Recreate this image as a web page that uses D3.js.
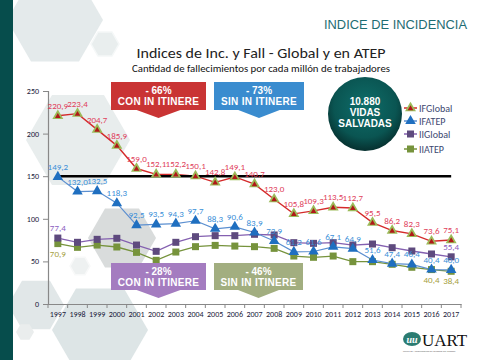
<!DOCTYPE html>
<html><head><meta charset="utf-8">
<script src="https://cdn.jsdelivr.net/npm/d3@7"></script>
<style>
html,body{margin:0;padding:0;background:#fff;}
svg{display:block;}
</style></head>
<body>
<svg id="c" width="480" height="360"></svg>
<script>
const years = ["1997","1998","1999","2000","2001","2002","2003","2004","2005","2006","2007","2008","2009","2010","2011","2012","2013","2014","2015","2016","2017"];
const ifGlobal = [220.9,223.4,204.7,185.9,159.0,152.1,152.2,150.1,142.8,149.1,140.7,123.0,105.8,109.3,113.5,112.7,95.5,86.2,82.3,73.6,75.1];
const ifAtep   = [149.2,132.0,132.5,118.3,92.5,93.5,94.3,97.7,88.3,90.6,83.9,73.9,61.2,61.6,67.1,64.9,51.6,47.4,46.4,40.4,40.0];
const iiGlobal = [77.4,72.4,75.9,77.1,69.2,61.8,72.4,79.0,80.2,80.2,81.8,81.0,72.0,71.2,72.0,69.2,70.4,66.1,62.2,58.7,55.4];
const iiAtep   = [70.9,66.5,69.2,66.9,60.6,51.3,61.0,67.3,68.8,68.0,67.3,65.3,56.3,54.8,56.3,49.7,49.7,46.6,43.1,40.4,38.4];
const yTicks = [0,50,100,150,200,250];
const refValue = 150;
const seriesNames = ["IFGlobal","IFATEP","IIGlobal","IIATEP"];
const ifGlobalLabelIdx = years.map((d,i)=>i);
const ifAtepLabelIdx = years.map((d,i)=>i);
const iiGlobalLabelIdx = [0,20];
const iiAtepLabelIdx = [0,19,20];
const callouts = [
  {l1:"- 66%", l2:"CON IN ITINERE", color:"#c93434"},
  {l1:"- 73%", l2:"SIN IN ITINERE", color:"#3a8ccf"},
  {l1:"- 28%", l2:"CON IN ITINERE", color:"#a47cc0"},
  {l1:"- 46%", l2:"SIN IN ITINERE", color:"#a2ae80"}
];
const calloutPos = [[111,82,206,110],[214,82,304,110],[111,263,206,290],[214,263,303,290]];

const NARROW = "Carlito, 'Liberation Sans Narrow', 'Liberation Sans', Arial, sans-serif";
const svg = d3.select("#c");

// decorative background
const bg = svg.append("g");
function hex(cx,cy,r,fill,stroke){
  const pts = d3.range(6).map(k=>{const a=Math.PI/3*k; return [cx+r*Math.cos(a), cy+r*Math.sin(a)];});
  bg.append("polygon").attr("points",pts.map(p=>p.join(",")).join(" "))
    .attr("fill",fill).attr("stroke",stroke||"none").attr("stroke-width",1.5);
}
hex(55,20,48,"#e4eaeb");
hex(78,140,52,"#e8eded");
hex(105,44,14,"#e9eeee","#f5f8f8");
hex(122,238,34,"#d9dcdc");
hex(80,266,10,"#eef1f1","#f8f9f9");
hex(36,305,28,"#e1e7e8");
hex(100,330,48,"#dde5e6");
hex(25,332,9,"#eaeded");
bg.append("rect").attr("x",0).attr("y",0).attr("width",13).attr("height",360).attr("fill","#064d4c");

// headings
svg.append("text").attr("x",467).attr("y",29).attr("text-anchor","end")
  .attr("font-family","'Liberation Sans', Arial, sans-serif").attr("font-size",13.5)
  .attr("fill","#1e6d73").attr("textLength",143).attr("lengthAdjust","spacingAndGlyphs")
  .text("INDICE  DE INCIDENCIA");
svg.append("text").attr("x",261).attr("y",58).attr("text-anchor","middle")
  .attr("font-family",NARROW).attr("font-size",15).attr("fill","#222")
  .attr("textLength",249).attr("lengthAdjust","spacingAndGlyphs")
  .text("Indices de Inc. y Fall - Global y en ATEP");
svg.append("text").attr("x",261).attr("y",72).attr("text-anchor","middle")
  .attr("font-family",NARROW).attr("font-size",10).attr("fill","#111")
  .attr("textLength",258).attr("lengthAdjust","spacingAndGlyphs")
  .text("Cantidad de fallecimientos por cada millón de trabajadores");

// scales
const x = d3.scaleBand().domain(years).range([48,461]);
const cx = d => x(d) + x.bandwidth()/2;
const y = d3.scaleLinear().domain([0,250]).range([304,91]);

// axes
const gx = svg.append("g").attr("transform","translate(0,304)")
  .call(d3.axisBottom(x).tickSize(0).tickPadding(7));
gx.select(".domain").attr("stroke","#888").attr("stroke-width",1.2);
gx.selectAll("text").attr("font-family",NARROW).attr("font-size",8).attr("fill","#1a1a3a");
gx.selectAll(".bt").data(years.concat(["end"])).enter().append("line")
  .attr("x1",(d,i)=>48+i*x.step()).attr("x2",(d,i)=>48+i*x.step())
  .attr("y1",0).attr("y2",4).attr("stroke","#888");
const gy = svg.append("g").attr("transform","translate(48,0)")
  .call(d3.axisLeft(y).tickValues(yTicks).tickSize(5).tickPadding(4));
gy.select(".domain").attr("stroke","#888").attr("stroke-width",1.2);
gy.selectAll(".tick line").attr("stroke","#888");
gy.selectAll("text").attr("font-family",NARROW).attr("font-size",8).attr("fill","#1a1a3a");

// series
const series = [
  {name:"IFGlobal", vals:ifGlobal, line:"#d42a2a", lw:1.4, lab:"#e0405a", marker:"tri2", labIdx:ifGlobalLabelIdx, below:false},
  {name:"IFATEP", vals:ifAtep, line:"#5b8fd0", lw:1.2, lab:"#3a8fd8", marker:"tri", mc:"#1f6fc0", labIdx:ifAtepLabelIdx, below:false},
  {name:"IIGlobal", vals:iiGlobal, line:"#8460b0", lw:1.3, lab:"#8a5cc0", marker:"sq", mc:"#5e4a7e", labIdx:iiGlobalLabelIdx, below:false},
  {name:"IIATEP", vals:iiAtep, line:"#76933c", lw:1.3, lab:"#a5a040", marker:"sq", mc:"#76933c", labIdx:iiAtepLabelIdx, below:true}
];
const line = d3.line().x((d,i)=>cx(years[i])).y(d=>y(d));
const order = [3,2,1,0];
order.forEach(k=>{
  const s = series[k];
  svg.append("path").datum(s.vals).attr("d",line).attr("fill","none")
    .attr("stroke",s.line).attr("stroke-width",s.lw);
});
svg.append("line").attr("x1",cx(years[0])).attr("x2",cx(years[years.length-1]))
  .attr("y1",y(refValue)).attr("y2",y(refValue)).attr("stroke","#000").attr("stroke-width",2.5);

const tri = d3.symbol().type(d3.symbolTriangle);
function drawMarker(g, s, px, py){
  if(s.marker==="sq"){
    g.append("rect").attr("x",px-3.5).attr("y",py-3.5).attr("width",7).attr("height",7).attr("fill",s.mc);
  } else if(s.marker==="tri"){
    g.append("path").attr("d",tri.size(48)()).attr("transform",`translate(${px},${py})`).attr("fill",s.mc);
  } else {
    g.append("path").attr("d",tri.size(52)()).attr("transform",`translate(${px},${py})`).attr("fill","#9bbb59");
    g.append("path").attr("d",tri.size(14)()).attr("transform",`translate(${px},${py+0.5})`).attr("fill","#b01818");
  }
}
order.forEach(k=>{
  const s = series[k];
  const g = svg.append("g");
  s.vals.forEach((v,i)=>drawMarker(g,s,cx(years[i]),y(v)));
});
const fmt = v => v.toFixed(1).replace(".",",");
series.forEach(s=>{
  const g = svg.append("g");
  s.labIdx.forEach(i=>{
    const v = s.vals[i];
    g.append("text").attr("x",cx(years[i])).attr("y", s.below ? y(v)+13 : y(v)-7)
      .attr("text-anchor","middle").attr("font-family",NARROW).attr("font-size",9)
      .attr("fill",s.lab).text(fmt(v));
  });
});

// callouts
callouts.forEach((c,i)=>{
  const [x0,y0,x1,y1] = calloutPos[i];
  const w = x1-x0, mx=(x0+x1)/2;
  const pts = [[x0,y0],[x1,y0],[x1,y1],[x1-w*0.27,y1],[mx,y1+8],[x0+w*0.27,y1],[x0,y1]];
  svg.append("polygon").attr("points",pts.map(p=>p.join(",")).join(" ")).attr("fill",c.color);
  svg.append("text").attr("x",mx).attr("y",y0+12).attr("text-anchor","middle")
    .attr("font-family","'Liberation Sans', Arial, sans-serif").attr("font-weight","bold")
    .attr("font-size",10).attr("fill","#fff").text(c.l1);
  svg.append("text").attr("x",mx).attr("y",y0+23).attr("text-anchor","middle")
    .attr("font-family","'Liberation Sans', Arial, sans-serif").attr("font-weight","bold")
    .attr("font-size",10).attr("fill","#fff").attr("letter-spacing",0.3).text(c.l2);
});

// circle
const defs = svg.append("defs");
const rg = defs.append("radialGradient").attr("id","cg").attr("cx","50%").attr("cy","40%").attr("r","60%");
rg.append("stop").attr("offset","0%").attr("stop-color","#0f6e6a");
rg.append("stop").attr("offset","70%").attr("stop-color","#0a5552");
rg.append("stop").attr("offset","100%").attr("stop-color","#06302f");
svg.append("circle").attr("cx",365).attr("cy",114).attr("r",37).attr("fill","url(#cg)");
[["10.880",105],["VIDAS",116],["SALVADAS",127]].forEach(([t,yy])=>{
  svg.append("text").attr("x",365).attr("y",yy).attr("text-anchor","middle")
    .attr("font-family","'Liberation Sans', Arial, sans-serif").attr("font-weight","bold")
    .attr("font-size",10).attr("fill","#fff").text(t);
});

// legend
const lg = svg.append("g");
series.forEach((s,i)=>{
  const yy = [108,121,134,149][i];
  lg.append("line").attr("x1",404).attr("x2",417).attr("y1",yy).attr("y2",yy).attr("stroke",s.line).attr("stroke-width",1.5);
  drawMarker(lg, s, 410.5, yy);
  lg.append("text").attr("x",419).attr("y",yy+3.5).attr("font-family",NARROW).attr("font-size",10)
    .attr("fill","#3d4870").text(s.name);
});

// logo
const lo = svg.append("g");
lo.append("ellipse").attr("cx",412).attr("cy",339).attr("rx",9).attr("ry",7).attr("fill","#2b7c72");
lo.append("text").attr("x",412).attr("y",343).attr("text-anchor","middle").attr("font-family","'Liberation Serif',serif")
  .attr("font-style","italic").attr("font-weight","bold").attr("font-size",10).attr("fill","#fff").text("uu");
lo.append("text").attr("x",422).attr("y",346).attr("font-family","'Liberation Serif',serif").attr("font-size",17).attr("fill","#111").text("UART");
lo.append("text").attr("x",403).attr("y",352).attr("font-family","'Liberation Sans',sans-serif").attr("font-size",2.5).attr("fill","#555")
  .text("Unión de Aseguradoras de Riesgos del Trabajo");
</script>
</body></html>
